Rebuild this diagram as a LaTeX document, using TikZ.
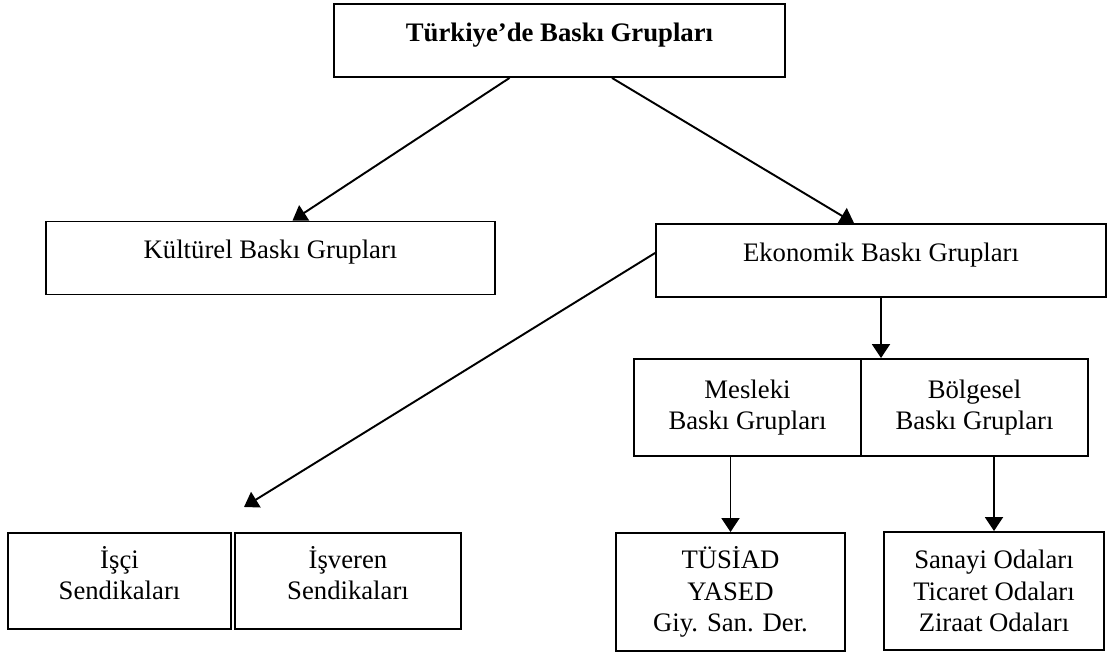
\documentclass[tikz,border=0pt]{standalone}
\usepackage{fontspec}
\setmainfont{Liberation Serif}
\usetikzlibrary{arrows.meta}

\begin{document}
\begin{tikzpicture}
[>={Triangle[length=0.28cm,width=0.36cm]}, x=0.02cm, y=-0.02cm, line width=1.1pt,
kutu/.style={draw, align=center, inner sep=0pt, font=\fontsize{15.2}{18}\selectfont}]
\useasboundingbox (0,0) rectangle (1109,655);
\node[kutu, text depth=9.5pt, minimum width=9.02cm, minimum height=1.46cm] (turkiye) at (559.5, 40.5) {\textbf{Türkiye’de Baskı Grupları}};
\node[kutu, text depth=9.5pt, minimum width=8.98cm, minimum height=1.46cm] (kulturel) at (270.5, 258) {Kültürel Baskı Grupları};
\node[kutu, text depth=9.5pt, minimum width=9.0cm, minimum height=1.46cm] (ekonomik) at (881, 260.5) {Ekonomik Baskı Grupları};
\node[kutu, minimum width=4.54cm, minimum height=1.94cm] (mesleki) at (747.5, 407.5) {Mesleki\\Baskı Grupları};
\node[kutu, minimum width=4.54cm, minimum height=1.94cm] (bolgesel) at (974.5, 407.5) {Bölgesel\\Baskı Grupları};
\node[kutu, text depth=9pt, minimum width=4.46cm, minimum height=1.92cm] (isci) at (119.5, 581) {İşçi\\Sendikaları};
\node[kutu, text depth=9pt, minimum width=4.52cm, minimum height=1.92cm] (isveren) at (348, 581) {İşveren\\Sendikaları};
\node[kutu, minimum width=4.58cm, minimum height=2.36cm] (tusiad) at (730.5, 592) {TÜSİAD\\YASED\\Giy. San. Der.};
\node[kutu, minimum width=4.4cm, minimum height=2.36cm] (odalar) at (994, 591) {Sanayi Odaları\\Ticaret Odaları\\Ziraat Odaları};
\coordinate (sendika) at (244, 507);

\draw[->] ([xshift=-1cm]turkiye.south) -- ([xshift=0.44cm]kulturel.north);
\draw[->] ([xshift=1.05cm]turkiye.south) -- ([xshift=-0.54cm]ekonomik.north);
\draw[->] ([yshift=0.15cm]ekonomik.west) -- (sendika);
\draw[->] (ekonomik.south) -- (ekonomik.south |- bolgesel.north);
\draw[->] (tusiad.north |- mesleki.south) -- (tusiad.north);
\draw[->] (odalar.north |- bolgesel.south) -- (odalar.north);
\end{tikzpicture}
\end{document}
